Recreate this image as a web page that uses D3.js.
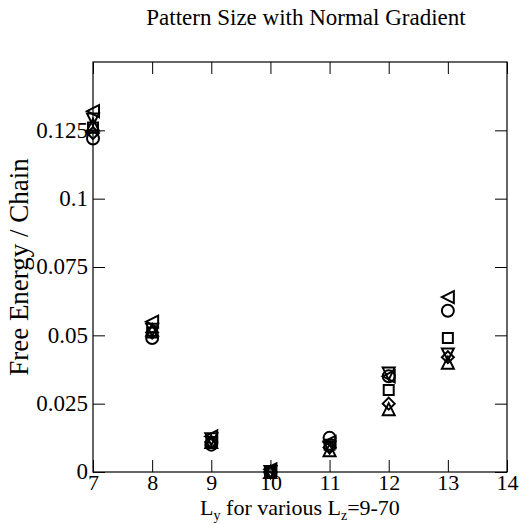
<!DOCTYPE html>
<html>
<head>
<meta charset="utf-8">
<script src="https://cdn.jsdelivr.net/npm/d3@7"></script>
<style>
  body { margin: 0; background: #fff; }
  svg text { font-family: "Liberation Serif", "Times New Roman", Times, "DejaVu Serif", serif !important; fill: #000; }
</style>
</head>
<body>
<div id="chart"></div>
<script>
// values
const ly = [7, 8, 9, 10, 11, 12, 13];
const xTicks = [7, 8, 9, 10, 11, 12, 13, 14];
const yTicks = [0, 0.025, 0.05, 0.075, 0.1, 0.125];
const yTickLabels = ['0', '0.025', '0.05', '0.075', '0.1', '0.125'];

const seriesCircle   = [0.122, 0.049, 0.010, 0.000, 0.0125, 0.035, 0.059];
const seriesSquare   = [0.126, 0.051, 0.011, 0.000, 0.010, 0.030, 0.049];
const seriesDiamond  = [0.124, 0.051, 0.011, 0.000, 0.009, 0.025, 0.042];
const seriesTriUp    = [0.127, 0.052, 0.011, 0.000, 0.008, 0.023, 0.040];
const seriesTriLeft  = [0.132, 0.055, 0.013, 0.001, 0.011, 0.035, 0.064];
const seriesTriDown  = [0.129, 0.052, 0.012, 0.000, 0.009, 0.036, 0.043];

const width = 519;
const height = 524;
const margin = { top: 62, right: 12, bottom: 52, left: 93 };
const serif = '"Liberation Serif", "Times New Roman", Times, serif';

const svg = d3.select('#chart')
    .append('svg')
    .attr('width', width)
    .attr('height', height)
    .style('font-family', serif);

const x = d3.scaleLinear().domain([7, 14]).range([margin.left, width - margin.right]);
const y = d3.scaleLinear().domain([0, 0.15]).range([height - margin.bottom, margin.top]);

// frame
svg.append('rect')
    .attr('x', x(7))
    .attr('y', y(0.15))
    .attr('width', x(14) - x(7))
    .attr('height', y(0) - y(0.15))
    .attr('fill', 'none')
    .attr('stroke', '#000')
    .attr('stroke-width', 1.2);

const tickLen = 12;

const xAxisBottom = d3.axisBottom(x).tickValues(xTicks).tickSize(-tickLen).tickFormat(d3.format('d')).tickPadding(4);
const xAxisTop = d3.axisTop(x).tickValues(xTicks).tickSize(-tickLen).tickFormat('');
const yAxisLeft = d3.axisLeft(y).tickValues(yTicks).tickSize(-tickLen).tickFormat((d, i) => yTickLabels[i]).tickPadding(5);
const yAxisRight = d3.axisRight(y).tickValues(yTicks).tickSize(-tickLen).tickFormat('');

const gx = svg.append('g').attr('transform', `translate(0,${y(0)})`).call(xAxisBottom);
svg.append('g').attr('transform', `translate(0,${y(0.15)})`).call(xAxisTop);
const gy = svg.append('g').attr('transform', `translate(${x(7)},0)`).call(yAxisLeft);
svg.append('g').attr('transform', `translate(${x(14)},0)`).call(yAxisRight);

svg.selectAll('.domain').remove();
svg.selectAll('g').attr('font-family', null);
svg.selectAll('.tick line').attr('stroke', '#000').attr('stroke-width', 1);
gx.selectAll('.tick text').style('font-size', '22px').style('font-family', serif).attr('dy', '0.62em');
gy.selectAll('.tick text').style('font-size', '23px').style('font-family', serif).attr('dy', '0.3em');

// title
svg.append('text')
    .attr('x', 306)
    .attr('y', 25)
    .attr('text-anchor', 'middle')
    .style('font-size', '23px')
    .style('font-family', serif)
    .text('Pattern Size with Normal Gradient');

// x label
const xl = svg.append('text')
    .attr('x', 300)
    .attr('y', 515)
    .attr('text-anchor', 'middle')
    .style('font-size', '22px')
    .style('font-family', serif);
xl.append('tspan').text('L');
xl.append('tspan').attr('dy', 5).style('font-size', '14px').text('y');
xl.append('tspan').attr('dy', -5).text(' for various L');
xl.append('tspan').attr('dy', 5).style('font-size', '14px').text('z');
xl.append('tspan').attr('dy', -5).text('=9-70');

// y label
svg.append('text')
    .attr('transform', `translate(28,${(y(0) + y(0.15)) / 2}) rotate(-90)`)
    .attr('text-anchor', 'middle')
    .style('font-size', '27px')
    .style('font-family', serif)
    .text('Free Energy / Chain');

// symbol shapes
const s = 6;
const shapes = {
    circle: `M-6,0A6,6 0 1,0 6,0A6,6 0 1,0 -6,0Z`,
    square: `M-5,-5H5V5H-5Z`,
    diamond: `M0,${-s}L${s},0L0,${s}L${-s},0Z`,
    triUp: `M0,${-s}L${s},${s}L${-s},${s}Z`,
    triDown: `M0,${s}L${s},${-s}L${-s},${-s}Z`,
    triLeft: `M${-s},0L${s},${-s}L${s},${s}Z`
};

const series = [
    { shape: 'circle', values: seriesCircle },
    { shape: 'square', values: seriesSquare },
    { shape: 'diamond', values: seriesDiamond },
    { shape: 'triUp', values: seriesTriUp },
    { shape: 'triLeft', values: seriesTriLeft },
    { shape: 'triDown', values: seriesTriDown }
];

series.forEach(sr => {
    svg.append('g')
        .selectAll('path')
        .data(sr.values)
        .join('path')
            .attr('d', shapes[sr.shape])
            .attr('transform', (d, i) => `translate(${x(ly[i])},${y(d)})`)
            .attr('fill', 'none')
            .attr('stroke', '#000')
            .attr('stroke-width', 2);
});
</script>
</body>
</html>
